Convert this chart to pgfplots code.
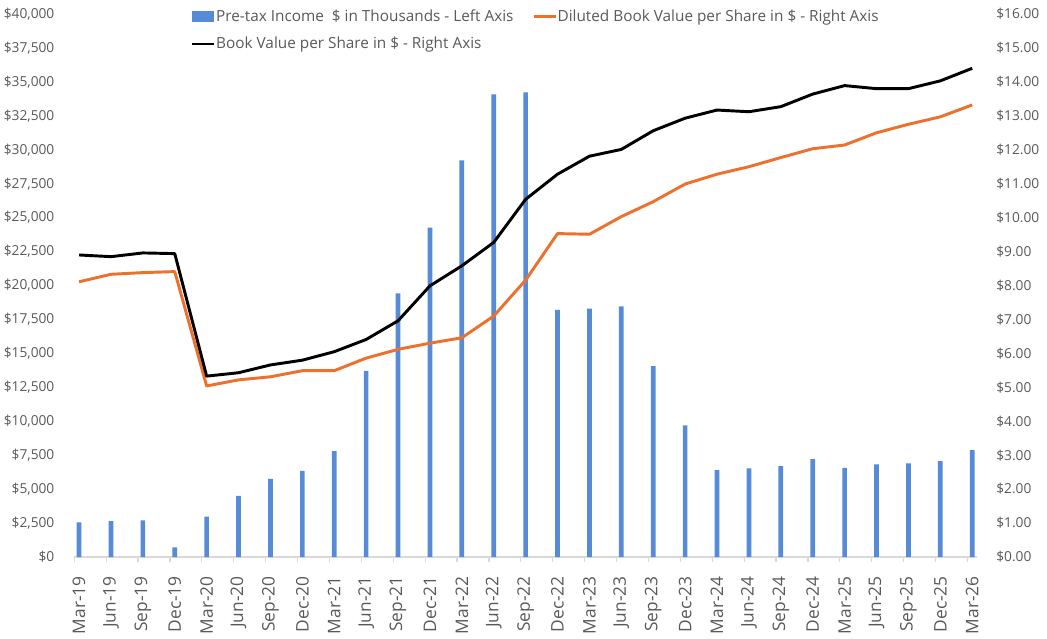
\documentclass[border=0pt]{standalone}
\usepackage{fontspec}
\setmainfont{Open Sans}
\usepackage{pgfplots}
\usepackage{pgfplotstable}
\pgfplotsset{compat=1.18}
\usetikzlibrary{calc}
\definecolor{barblue}{RGB}{86,140,215}
\definecolor{lineorange}{RGB}{237,112,45}
\definecolor{txtgray}{RGB}{89,89,89}
\definecolor{axgray}{RGB}{217,217,217}

\pgfplotstableread{
idx bar bv dbv
0 2550 8.90 8.11
1 2650 8.85 8.33
2 2700 8.96 8.38
3 720 8.94 8.41
4 2970 5.33 5.04
5 4500 5.43 5.22
6 5750 5.66 5.31
7 6340 5.80 5.49
8 7810 6.05 5.49
9 13720 6.41 5.86
10 19420 6.96 6.12
11 24260 7.99 6.30
12 29220 8.58 6.46
13 34080 9.27 7.10
14 34230 10.54 8.16
15 18200 11.28 9.53
16 18290 11.81 9.51
17 18470 12.01 10.03
18 14070 12.56 10.47
19 9700 12.93 10.99
20 6410 13.17 11.28
21 6530 13.12 11.50
22 6700 13.27 11.77
23 7220 13.64 12.03
24 6560 13.89 12.14
25 6830 13.80 12.50
26 6900 13.80 12.75
27 7070 14.03 12.97
28 7880 14.40 13.32
}\datatable

\begin{document}
\begin{tikzpicture}
\pgfplotsset{
  common/.style={
    width=677pt, height=407.25pt, scale only axis,
    xmin=-0.15, xmax=28.15,
  }
}
\begin{axis}[
  common,
  ymin=0, ymax=40000,
  axis y line*=left,
  axis x line*=bottom,
  x axis line style={draw=axgray, line width=0.9pt, -},
  y axis line style={draw=none},
  ytick={0,2500,...,40000},
  ytick style={draw=none},
  yticklabel={\$\pgfmathprintnumber[fixed, precision=0, 1000 sep={,}, assume math mode=true]{\tick}},
  yticklabel style={font=\fontsize{10.3}{12}\selectfont, text=txtgray, anchor=east, inner sep=0pt, xshift=-10.5pt},
  scaled y ticks=false,
  xtick={0,...,28},
  xticklabels={Mar-19,Jun-19,Sep-19,Dec-19,Mar-20,Jun-20,Sep-20,Dec-20,Mar-21,Jun-21,Sep-21,Dec-21,Mar-22,Jun-22,Sep-22,Dec-22,Mar-23,Jun-23,Sep-23,Dec-23,Mar-24,Jun-24,Sep-24,Dec-24,Mar-25,Jun-25,Sep-25,Dec-25,Mar-26},
  major x tick style={draw=none},
  minor xtick={-0.15,0.85,...,27.9},
  minor x tick style={draw=axgray, line width=0.9pt},
  tick align=outside,
  minor tick length=3.75pt,
  xticklabel style={font=\fontsize{13}{15}\selectfont, text=txtgray, inner sep=0pt, yshift=-10pt, rotate=90, anchor=east},
]
\addplot[ybar, bar width=0.147, fill=barblue, draw=none] table[x=idx, y=bar] {\datatable};
\coordinate (SW) at (rel axis cs:0,0);
\coordinate (NE) at (rel axis cs:1,1);
\end{axis}
\begin{axis}[
  common,
  ymin=0, ymax=16,
  axis y line*=right,
  axis x line=none,
  y axis line style={draw=none},
  ytick={0,...,16},
  ytick style={draw=none},
  yticklabel={\$\pgfmathprintnumber[fixed, fixed zerofill, precision=2, assume math mode=true]{\tick}},
  yticklabel style={font=\fontsize{10.3}{12}\selectfont, text=txtgray, anchor=west, inner sep=0pt, xshift=14.3pt},
  legend columns=2,
  legend cell align=left,
  legend style={draw=none, fill=none, at={(0.125,1.016)}, anchor=north west,
    font=\fontsize{11.5}{13}\selectfont, text=txtgray,
    /tikz/every even column/.append style={column sep=14pt},
    row sep=8.5pt,
    nodes={inner xsep=0.5pt, inner ysep=1pt}},
]
\addlegendimage{legend image code/.code={\fill[barblue] (0pt,-3.75pt) rectangle (15.75pt,3.75pt);}}
\addlegendentry{Pre-tax Income\ \ \$ in Thousands - Left Axis}
\addplot[lineorange, line width=2.2pt, line join=round, legend image code/.code={\draw[lineorange, line width=1.6pt] (0pt,0pt) -- (16.5pt,0pt);}] table[x=idx, y=dbv] {\datatable};
\addlegendentry{Diluted Book Value per Share in \$ - Right Axis}
\addplot[black, line width=2.2pt, line join=round, legend image code/.code={\draw[black, line width=1.6pt] (0pt,0pt) -- (16.5pt,0pt);}] table[x=idx, y=bv] {\datatable};
\addlegendentry{Book Value per Share in \$ - Right Axis}
\end{axis}
\pgfresetboundingbox
\path[use as bounding box] ($(SW)+(-55.7pt,-61.1pt)$) rectangle ($(NE)+(52.5pt,10.5pt)$);
\end{tikzpicture}
\end{document}
